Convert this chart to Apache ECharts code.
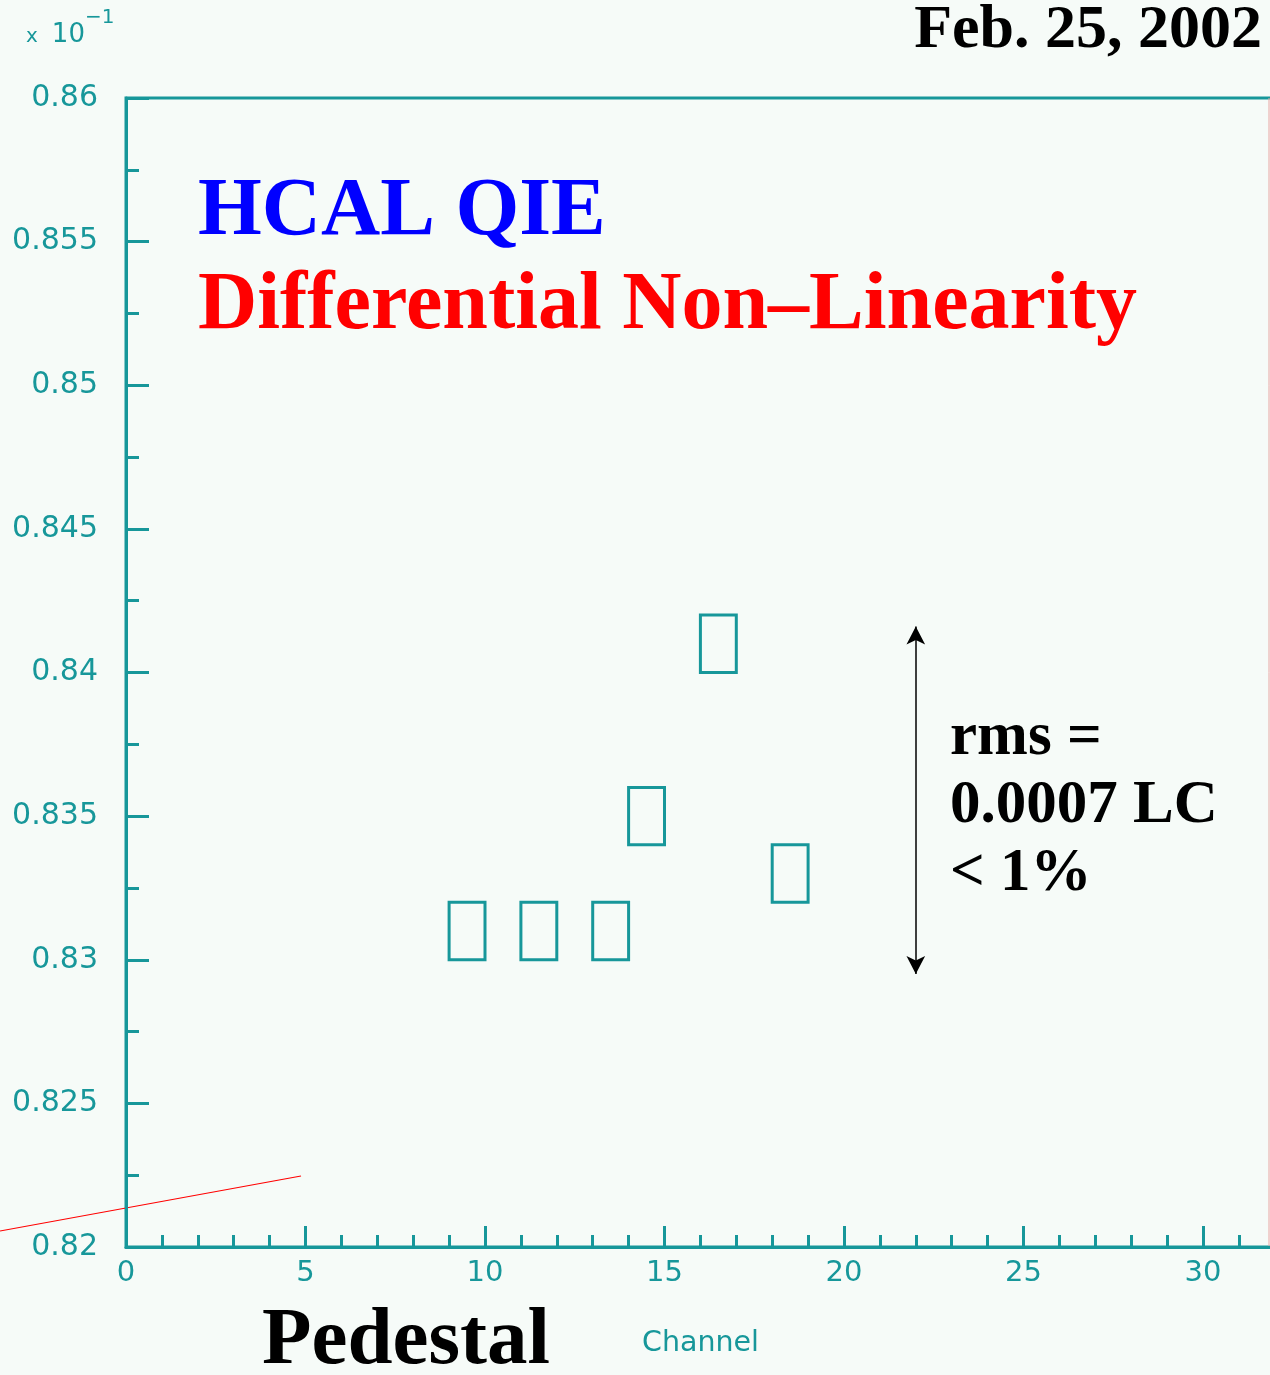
<!DOCTYPE html>
<html>
<head>
<meta charset="utf-8">
<script src="https://cdn.jsdelivr.net/npm/echarts@6/dist/echarts.min.js"></script>
<style>
  html, body { margin: 0; padding: 0; background: #f6fbf8; }
  #chart { width: 1270px; height: 1375px; }
</style>
</head>
<body>
<div id="chart"></div>
<script>
// Channel bins (lower edge) and their DNL values with uncertainty, in units of 10^-1
const channels = [9, 11, 13, 14, 16, 18];
const binWidth = 1;
const dnlValues = [0.831, 0.831, 0.831, 0.835, 0.841, 0.833];
const dnlErrors = [0.001, 0.001, 0.001, 0.001, 0.001, 0.001];

// Spread marker: vertical double arrow at a channel, spanning the data range
const spreadChannel = 22;
const spreadRange = [0.8295, 0.8416];

// Axis ranges and tick steps
const xRange = [0, 35];
const xStep = 5;
const yRange = [0.82, 0.86];
const yStep = 0.005;

const teal = '#17979a';
const axisFont = 'DejaVu Sans';
const serif = '"Liberation Serif", "Times New Roman", serif';

const boxes = channels.map((c, i) => [c, c + binWidth, dnlValues[i] - dnlErrors[i], dnlValues[i] + dnlErrors[i]]);

const chart = echarts.init(document.getElementById('chart'), null, { renderer: 'canvas' });

chart.setOption({
  backgroundColor: '#f6fbf8',
  animation: false,
  grid: {
    left: 126, top: 98, height: 1149, width: 1256.5,
    outerBoundsMode: 'none', containLabel: false,
    show: true, borderColor: teal, borderWidth: 3, backgroundColor: 'transparent'
  },
  xAxis: {
    type: 'value', min: xRange[0], max: xRange[1], interval: xStep,
    axisLine: { show: true, lineStyle: { color: teal, width: 3 } },
    axisTick: { show: true, inside: true, length: 21, lineStyle: { color: teal, width: 3 } },
    minorTick: { show: true, splitNumber: 5, length: 12, lineStyle: { color: teal, width: 3 } },
    splitLine: { show: false },
    axisLabel: { color: teal, fontFamily: axisFont, fontSize: 29, margin: 12, showMaxLabel: false }
  },
  yAxis: {
    type: 'value', min: yRange[0], max: yRange[1], interval: yStep,
    axisLine: { show: true, lineStyle: { color: teal, width: 3 } },
    axisTick: { show: true, inside: true, length: 23, lineStyle: { color: teal, width: 3 } },
    minorTick: { show: true, splitNumber: 2, length: 13, lineStyle: { color: teal, width: 3 } },
    splitLine: { show: false },
    axisLabel: { color: teal, fontFamily: axisFont, fontSize: 30, margin: 28 }
  },
  series: [{
    type: 'custom',
    data: boxes,
    renderItem: function (params, api) {
      const p0 = api.coord([api.value(0), api.value(3)]);
      const p1 = api.coord([api.value(1), api.value(2)]);
      return {
        type: 'rect',
        shape: { x: p0[0], y: p0[1], width: p1[0] - p0[0], height: p1[1] - p0[1] },
        style: { fill: 'none', stroke: teal, lineWidth: 3 }
      };
    },
    encode: { x: [0, 1], y: [2, 3] },
    markLine: {
      silent: true,
      symbol: ['arrow', 'arrow'],
      symbolSize: [14, 18],
      label: { show: false },
      lineStyle: { color: '#000', width: 1.5, type: 'solid' },
      data: [[{ coord: [spreadChannel, spreadRange[0]] }, { coord: [spreadChannel, spreadRange[1]] }]]
    }
  }],
  graphic: [
    {
      type: 'text', left: 26, top: 8,
      style: {
        text: '{a|x}{c|10}{b|\u22121}',
        rich: {
          a: { fontFamily: axisFont, fontSize: 20, fill: teal, padding: [18, 14, 0, 0] },
          c: { fontFamily: axisFont, fontSize: 26, fill: teal, padding: [14, 0, 0, 0] },
          b: { fontFamily: axisFont, fontSize: 20, fill: teal, verticalAlign: 'top' }
        }
      }
    },
    {
      type: 'text', right: 8, top: 0,
      style: { text: 'Feb. 25, 2002', font: 'bold 62px ' + serif, fill: '#000' }
    },
    {
      type: 'text', left: 198, top: 172,
      style: { text: 'HCAL QIE', font: 'bold 82px ' + serif, fill: '#0000ff' }
    },
    {
      type: 'text', left: 198, top: 266,
      style: { text: 'Differential Non\u2013Linearity', font: 'bold 82px ' + serif, fill: '#ff0000' }
    },
    {
      type: 'text', left: 950, top: 704,
      style: { text: 'rms =\n0.0007 LC\n< 1%', font: 'bold 61px ' + serif, lineHeight: 68, fill: '#000' }
    },
    {
      type: 'text', left: 262, top: 1302,
      style: { text: 'Pedestal', font: 'bold 81px ' + serif, fill: '#000' }
    },
    {
      type: 'text', left: 642, top: 1329,
      style: { text: 'Channel', fontFamily: axisFont, fontSize: 28.5, fill: teal }
    },
    {
      type: 'line',
      shape: { x1: 0, y1: 1231, x2: 301, y2: 1176 },
      style: { stroke: '#ff0000', lineWidth: 1.2 }
    },
    {
      type: 'line',
      shape: { x1: 1269, y1: 98, x2: 1269, y2: 1247 },
      style: { stroke: '#e9a6a4', lineWidth: 1 }
    }
  ]
});
</script>
</body>
</html>
